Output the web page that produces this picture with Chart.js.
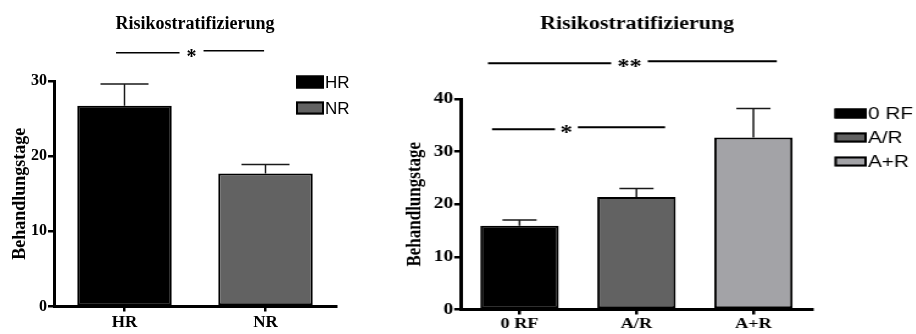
<!DOCTYPE html>
<html>
<head>
<meta charset="utf-8">
<script src="https://cdn.jsdelivr.net/npm/chart.js@4.4.1/dist/chart.umd.min.js"></script>
<style>
  html, body { margin: 0; padding: 0; background: #fff; }
  #wrap { position: relative; width: 916px; height: 334px; overflow: hidden; }
  #leftChart { position: absolute; left: 0; top: 0; }
  #rightBox { position: absolute; left: 380px; top: 0; width: 439px; height: 334px;
              transform: scaleX(1.22); transform-origin: 0 0; }
</style>
</head>
<body>
<div id="wrap">
  <canvas id="leftChart" width="380" height="334"></canvas>
  <div id="rightBox"><canvas id="rightChart" width="439" height="334"></canvas></div>
</div>
<script>
// --- data ---
const chartTitle = 'Risikostratifizierung';
const yTitle = 'Behandlungstage';

const leftLabels = ['HR', 'NR'];
const leftMeans = [26.7, 17.7];
const leftSem = [2.9, 1.2];
const leftColors = ['#000000', '#626262'];
const leftMax = 30;
const leftSig = [[0, 1, '*']];

const rightLabels = ['0 RF', 'A/R', 'A+R'];
const rightMeans = [15.9, 21.4, 32.7];
const rightSem = [1.1, 1.6, 5.5];
const rightColors = ['#000000', '#626262', '#a3a3a7'];
const rightMax = 40;
const rightSig = [[0, 2, '**'], [0, 1, '*']];

const SERIF = "'Liberation Serif', 'Times New Roman', serif";
const SANS = "'Liberation Sans', Arial, sans-serif";

// error bars, significance lines, title and legend
const extras = {
  id: 'extras',
  afterDatasetsDraw(chart, args, o) {
    const ctx = chart.ctx, ys = chart.scales.y;
    const meta = chart.getDatasetMeta(0);
    ctx.save();
    ctx.strokeStyle = '#1a1a1a';
    ctx.lineWidth = o.errWidth;
    o.sem.forEach((e, i) => {
      const cx = meta.data[i].x;
      const top = ys.getPixelForValue(o.means[i]);
      const end = ys.getPixelForValue(o.means[i] + e);
      ctx.beginPath();
      ctx.moveTo(cx, top); ctx.lineTo(cx, end);
      ctx.moveTo(cx - o.cap, end); ctx.lineTo(cx + o.cap, end);
      ctx.stroke();
    });
    ctx.restore();
  },
  afterDraw(chart, args, o) {
    const ctx = chart.ctx, xs = chart.scales.x, ys = chart.scales.y;
    ctx.save();
    // title
    ctx.fillStyle = '#000';
    ctx.font = 'bold ' + o.titleSize + 'px ' + SERIF;
    ctx.textAlign = 'center';
    ctx.textBaseline = 'alphabetic';
    ctx.fillText(chartTitle, o.titleX, o.titleY);

    // significance lines
    ctx.strokeStyle = '#000';
    ctx.lineWidth = o.sigWidth;
    ctx.font = 'bold ' + o.starSize + 'px ' + SERIF;
    o.sig.forEach((s, k) => {
      const p = o.sigPos[k];
      const x0 = xs.getPixelForValue(s[0] - p.padL);
      const x1 = xs.getPixelForValue(s[1] + p.padR);
      const y = ys.getPixelForValue(p.level);
      const sx = x0 + (x1 - x0) * p.at;
      ctx.beginPath();
      ctx.moveTo(x0, y + 1); ctx.lineTo(sx - p.gap, y + 1);
      ctx.moveTo(sx + p.gap, y - 1); ctx.lineTo(x1, y - 1);
      ctx.stroke();
      const m = ctx.measureText(s[2]);
      const base = y - (m.actualBoundingBoxDescent - m.actualBoundingBoxAscent) / 2;
      ctx.fillText(s[2], sx, base + 1);
    });

    // legend
    ctx.font = o.legendSize + 'px ' + SANS;
    ctx.textAlign = 'left';
    ctx.textBaseline = 'middle';
    o.labels.forEach((lab, i) => {
      const cy = o.legY + i * o.legStep;
      ctx.fillStyle = o.colors[i];
      ctx.fillRect(o.legX, cy - o.boxH / 2, o.boxW, o.boxH);
      ctx.lineWidth = 2;
      ctx.strokeStyle = '#000';
      ctx.strokeRect(o.legX + 1, cy - o.boxH / 2 + 1, o.boxW - 2, o.boxH - 2);
      ctx.fillStyle = '#000';
      ctx.fillText(lab, o.legX + o.boxW + 1, cy + 1);
    });
    ctx.restore();
  }
};

function makeChart(id, labels, means, sem, colors, max, g) {
  return new Chart(document.getElementById(id), {
    type: 'bar',
    data: {
      labels: labels,
      datasets: [{
        data: means,
        backgroundColor: colors,
        borderColor: '#000',
        borderWidth: g.barBorder,
        borderSkipped: false,
        barPercentage: 0.67,
        categoryPercentage: 1
      }]
    },
    options: {
      responsive: false,
      animation: false,
      devicePixelRatio: 1,
      layout: { padding: { top: g.top, right: g.right, left: 0, bottom: 0 } },
      plugins: {
        legend: { display: false },
        tooltip: { enabled: false },
        extras: g.extras
      },
      scales: {
        x: {
          offset: true,
          grid: { display: true, drawOnChartArea: false, offset: false, tickLength: 5, lineWidth: 2.5, color: '#000' },
          border: { display: true, color: '#000', width: 3 },
          ticks: { color: '#000', font: { family: SERIF, size: g.xFont, weight: 'bold' }, padding: 1, maxRotation: 0 },
          afterFit: s => { s.height = g.xHeight; }
        },
        y: {
          min: 0, max: max,
          grid: { display: true, drawOnChartArea: false, tickLength: g.yTick, lineWidth: 2.5, color: '#000' },
          border: { display: true, color: '#000', width: 3 },
          ticks: { stepSize: 10, color: '#000', font: { family: SERIF, size: 16, weight: 'bold' }, padding: 1 },
          title: { display: true, text: yTitle, color: '#000',
                   font: { family: SERIF, size: g.yTitleSize, weight: 'bold' },
                   padding: { top: g.yTitlePad, bottom: 0 } },
          afterFit: s => { s.width = g.yWidth; }
        }
      }
    },
    plugins: [extras]
  });
}

makeChart('leftChart', leftLabels, leftMeans, leftSem, leftColors, leftMax, {
  top: 81, right: 44, yWidth: 54, xHeight: 27.5, yTick: 6, xFont: 17,
  yTitleSize: 18, yTitlePad: 10, barBorder: 2,
  extras: {
    means: leftMeans, sem: leftSem, labels: leftLabels, colors: leftColors, sig: leftSig,
    errWidth: 1.5, cap: 24,
    titleSize: 18, titleX: 195, titleY: 29,
    sigWidth: 1.5, starSize: 20,
    sigPos: [{ level: 33.9, padL: 0.06, padR: -0.01, at: 0.51, gap: 12 }],
    legX: 296, legY: 82, legStep: 26, boxW: 28, boxH: 13, legendSize: 17
  }
});

makeChart('rightChart', rightLabels, rightMeans, rightSem, rightColors, rightMax, {
  top: 99, right: 85, yWidth: 66.4, xHeight: 24.5, yTick: 5.5, xFont: 15,
  yTitleSize: 17, yTitlePad: 18.5, barBorder: 2,
  extras: {
    means: rightMeans, sem: rightSem, labels: rightLabels, colors: rightColors, sig: rightSig,
    errWidth: 1.5, cap: 14,
    titleSize: 18, titleX: 210.7, titleY: 29,
    sigWidth: 2, starSize: 20,
    sigPos: [
      { level: 47.0, padL: 0.27, padR: 0.2, at: 0.49, gap: 15 },
      { level: 34.45, padL: 0.235, padR: 0.245, at: 0.43, gap: 9.4 }
    ],
    legX: 372.5, legY: 113.5, legStep: 24, boxW: 26.5, boxH: 10, legendSize: 17
  }
});
</script>
</body>
</html>
